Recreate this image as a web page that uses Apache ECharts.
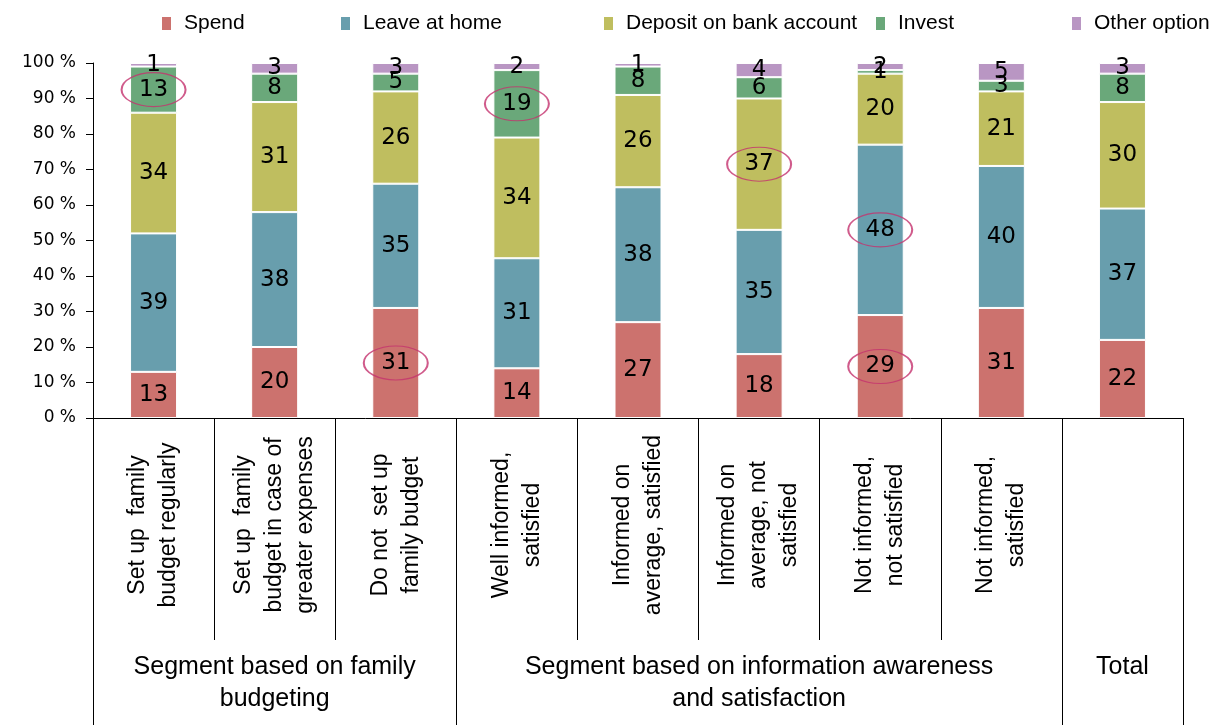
<!DOCTYPE html>
<html lang="en">
<head>
<meta charset="UTF-8">
<title>Stacked bars</title>
<script src="https://cdn.jsdelivr.net/npm/echarts@6/dist/echarts.min.js"></script>
<style>html,body{margin:0;padding:0;background:#fff}</style>
</head>
<body>
<div id="content" style="width:1213px;height:725px"></div>
<script>
// categories along the x axis (rotated labels)
var categories = [
    'Set up  family\nbudget regularly',
    'Set up  family\nbudget in case of\ngreater expenses',
    'Do not  set up\nfamily budget',
    'Well informed,\nsatisfied',
    'Informed on\naverage, satisfied',
    'Informed on\naverage, not\nsatisfied',
    'Not informed,\nnot satisfied',
    'Not informed,\nsatisfied',
    'Total'
];
// which categories belong to which segment
var groupNames = [
    'Segment based on family\nbudgeting',
    'Segment based on information awareness\nand satisfaction',
    'Total'
];
var groupSizes = [3, 5, 1];

var seriesNames = ['Spend', 'Leave at home', 'Deposit on bank account', 'Invest', 'Other option'];
var spend       = [13, 20, 31, 14, 27, 18, 29, 31, 22];
var leaveAtHome = [39, 38, 35, 31, 38, 35, 48, 40, 37];
var deposit     = [34, 31, 26, 34, 26, 37, 20, 21, 30];
var invest      = [13,  8,  5, 19,  8,  6,  1,  3,  8];
var other       = [ 1,  3,  3,  2,  1,  4,  2,  5,  3];
var colors = ['#cc726e', '#689ead', '#bfbe5f', '#6aa87a', '#b996c3'];

// circled values: [category index, series index]
var circled = [[0, 3], [2, 0], [3, 3], [5, 2], [6, 1], [6, 0]];

var myChart = echarts.init(document.getElementById('content'));

var stacks = [spend, leaveAtHome, deposit, invest, other];

// middle of each circled segment, from the data
var ellipseData = circled.map(function (c) {
    var base = 0;
    for (var s = 0; s < c[1]; s++) base += stacks[s][c[0]];
    return [c[0], base + stacks[c[1]][c[0]] / 2];
});

// group boundaries and group label slots
var groupLabelAt = {};
var groupStart = {};
var pos = 0;
groupSizes.forEach(function (n, i) {
    groupStart[pos] = true;
    groupLabelAt[pos + Math.floor(n / 2)] = groupNames[i];
    pos += n;
});

var legendLeft = [160, 339, 602, 874, 1070];
var legends = seriesNames.map(function (name, i) {
    return {
        data: [name],
        left: legendLeft[i],
        top: 13,
        padding: 0,
        icon: 'rect',
        itemWidth: 11,
        itemHeight: 15,
        selectedMode: false,
        textStyle: {
            fontFamily: 'Liberation Sans',
            fontSize: 21,
            color: '#000',
            padding: [0, 0, 0, 7]
        }
    };
});

var series = stacks.map(function (vals, i) {
    return {
        name: seriesNames[i],
        type: 'bar',
        stack: 'all',
        barWidth: 47,
        data: vals,
        itemStyle: {color: colors[i], borderColor: '#fff', borderWidth: 1},
        label: {
            show: true,
            position: 'inside',
            color: '#000',
            fontFamily: 'DejaVu Sans',
            fontSize: 23
        }
    };
});

series.push({
    type: 'scatter',
    silent: true,
    z: 5,
    symbol: 'circle',
    symbolSize: [64, 34],
    data: ellipseData,
    itemStyle: {color: 'rgba(0,0,0,0)', borderColor: '#c4326e', borderWidth: 1.5}
});

var option = {
    animation: false,
    color: colors,
    legend: legends,
    grid: {left: 93, right: 30, top: 63, bottom: 307},
    xAxis: [{
        type: 'category',
        data: categories,
        axisLine: {lineStyle: {color: '#000', width: 1}},
        axisTick: {show: true, alignWithLabel: false, interval: 0, length: 222, lineStyle: {color: '#000'}},
        axisLabel: {
            interval: 0,
            rotate: 90,
            align: 'center',
            verticalAlign: 'middle',
            margin: 107,
            lineHeight: 31,
            fontFamily: 'Liberation Sans',
            fontSize: 23,
            color: '#000',
            formatter: function (v) { return v === 'Total' ? '' : v; }
        }
    }, {
        type: 'category',
        data: categories,
        position: 'bottom',
        axisLine: {show: false},
        axisTick: {
            show: true,
            length: 310,
            interval: function (idx) { return !!groupStart[idx]; },
            lineStyle: {color: '#000'}
        },
        axisLabel: {
            interval: 0,
            margin: 233,
            lineHeight: 32,
            fontFamily: 'Liberation Sans',
            fontSize: 25,
            color: '#000',
            formatter: function (v, idx) { return groupLabelAt[idx] || ''; }
        }
    }],
    yAxis: {
        type: 'value',
        min: 0,
        max: 100,
        interval: 10,
        axisLine: {show: true, lineStyle: {color: '#000'}},
        axisTick: {show: true, length: 7, lineStyle: {color: '#000'}},
        splitLine: {show: false},
        axisLabel: {
            margin: 17,
            fontFamily: 'DejaVu Sans',
            fontSize: 17,
            color: '#000',
            formatter: '{value} %'
        }
    },
    series: series
};

myChart.setOption(option);
</script>
</body>
</html>
